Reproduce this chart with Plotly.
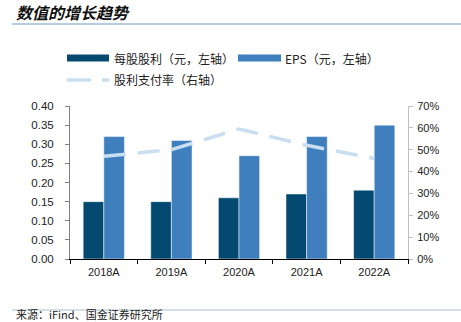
import plotly.graph_objects as go

categories = ["2018A", "2019A", "2020A", "2021A", "2022A"]
dps = [0.15, 0.15, 0.16, 0.17, 0.18]
eps = [0.32, 0.31, 0.27, 0.32, 0.35]
payout = [47, 50, 59.5, 52, 46]

left_ticks = [0, 0.05, 0.10, 0.15, 0.20, 0.25, 0.30, 0.35, 0.40]
right_ticks = [0, 10, 20, 30, 40, 50, 60, 70]

C_DARK = "#044a70"
C_EPS = "#3f7fbd"
C_LINE = "#c9def1"
CJK = "Noto Sans CJK SC"
NUM = "Liberation Sans, Arial"

W, H = 461, 322
L, R, T, B = 70, 53, 106, 63
PW, PH = W - L - R, H - T - B

fig = go.Figure()
fig.add_trace(go.Bar(x=categories, y=dps, name="每股股利（元，左轴）",
                     marker=dict(color=C_DARK, line=dict(color="white", width=0.5)),
                     yaxis="y"))
fig.add_trace(go.Bar(x=categories, y=eps, name="EPS（元，左轴）",
                     marker=dict(color=C_EPS, line=dict(color="white", width=0.5)),
                     yaxis="y"))
fig.add_trace(go.Scatter(x=categories, y=payout, name="股利支付率（右轴）", mode="lines",
                         line=dict(color=C_LINE, width=3.5, dash="22px,12px"),
                         yaxis="y2"))

fig.update_layout(
    width=W, height=H, autosize=False,
    margin=dict(l=L, r=R, t=T, b=B),
    paper_bgcolor="white", plot_bgcolor="white",
    barmode="group", bargap=0.39, bargroupgap=0,
    showlegend=False,
    font=dict(family=NUM, size=11, color="#222"),
    xaxis=dict(showline=True, linecolor="#000", linewidth=1, ticks="outside",
               tickson="boundaries", ticklen=4, tickcolor="#000",
               ticklabelstandoff=3,
               tickfont=dict(family=NUM, size=11, color="#222"), showgrid=False),
    yaxis=dict(range=[0, 0.4], tickvals=left_ticks,
               ticktext=[f"{v:.2f}" for v in left_ticks],
               showline=True, linecolor="#808080", linewidth=1, ticks="outside",
               ticklen=4, tickcolor="#808080", showgrid=False, zeroline=False,
               ticklabelstandoff=9,
               tickfont=dict(family=NUM, size=11.5, color="#222")),
    yaxis2=dict(range=[0, 70], tickvals=right_ticks,
                ticktext=[f"{v}%" for v in right_ticks],
                overlaying="y", side="right",
                showline=True, linecolor="#c0c0c0", linewidth=1, ticks="outside",
                ticklen=4, tickcolor="#c0c0c0", showgrid=False, zeroline=False,
                ticklabelstandoff=2,
                tickfont=dict(family=NUM, size=11, color="#222")),
)

def px(x):
    return (x - L) / PW
def py(y):
    return 1 - (y - T) / PH

shapes = []
shapes.append(dict(type="line", xref="paper", yref="paper", x0=px(12), x1=px(461),
                   y0=py(24), y1=py(24), line=dict(color="#9bbcd8", width=1.5)))
shapes.append(dict(type="line", xref="paper", yref="paper", x0=px(12), x1=px(461),
                   y0=py(310), y1=py(310), line=dict(color="#c6d6e2", width=1.5)))
shapes.append(dict(type="rect", xref="paper", yref="paper", x0=px(67), x1=px(109),
                   y0=py(61.5), y1=py(54.5), fillcolor=C_DARK, line=dict(width=0)))
shapes.append(dict(type="rect", xref="paper", yref="paper", x0=px(238), x1=px(281),
                   y0=py(61.5), y1=py(54.5), fillcolor=C_EPS, line=dict(width=0)))
shapes.append(dict(type="line", xref="paper", yref="paper", x0=px(67), x1=px(91),
                   y0=py(80), y1=py(80), line=dict(color=C_LINE, width=3.5)))
shapes.append(dict(type="line", xref="paper", yref="paper", x0=px(102), x1=px(109),
                   y0=py(80), y1=py(80), line=dict(color=C_LINE, width=3.5)))
fig.update_layout(shapes=shapes)

ann = []
ann.append(dict(text="<b><i>数值的增长趋势</i></b>", xref="paper", yref="paper",
                x=px(14), y=py(12), xanchor="left", yanchor="middle", showarrow=False,
                font=dict(family=CJK, size=16, color="#111")))
ann.append(dict(text="每股股利（元，左轴）", xref="paper", yref="paper",
                x=px(112), y=py(58), xanchor="left", yanchor="middle", showarrow=False,
                font=dict(family=CJK, size=12, color="#222")))
ann.append(dict(text="EPS（元，左轴）", xref="paper", yref="paper",
                x=px(283), y=py(58), xanchor="left", yanchor="middle", showarrow=False,
                font=dict(family=CJK, size=12, color="#222")))
ann.append(dict(text="股利支付率（右轴）", xref="paper", yref="paper",
                x=px(112), y=py(80), xanchor="left", yanchor="middle", showarrow=False,
                font=dict(family=CJK, size=12, color="#222")))
ann.append(dict(text="来源：iFind、国金证券研究所", xref="paper", yref="paper",
                x=px(14), y=py(314), xanchor="left", yanchor="middle", showarrow=False,
                font=dict(family=CJK, size=11, color="#222")))
fig.update_layout(annotations=ann)

fig.write_html("out.html")
